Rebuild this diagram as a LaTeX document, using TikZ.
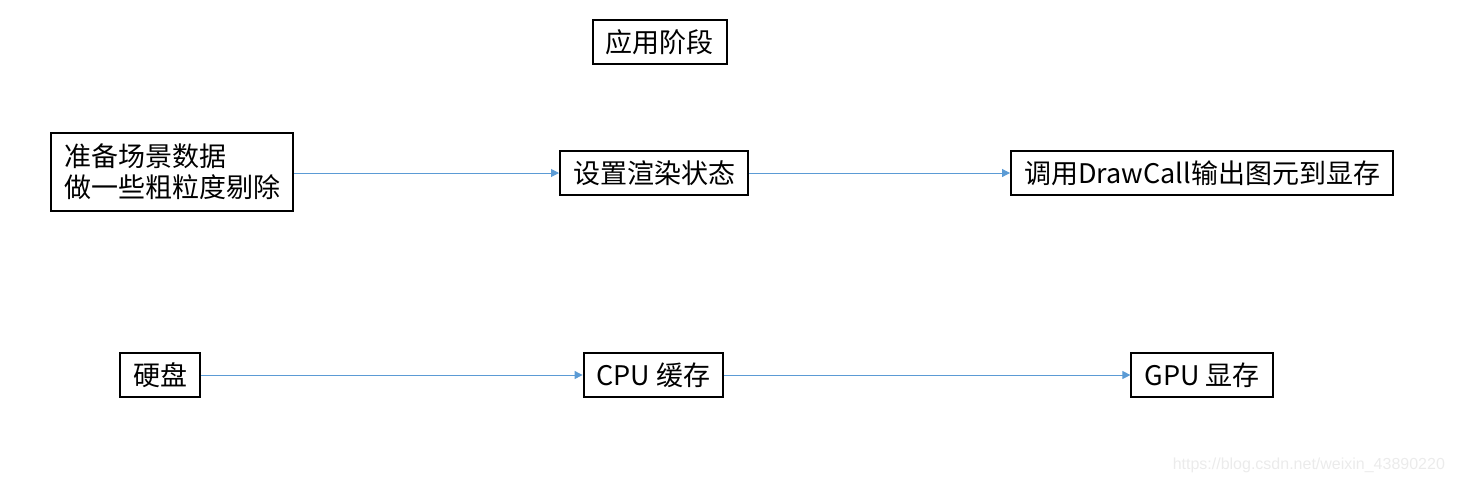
\documentclass[tikz,border=0pt]{standalone}
\usepackage{fontspec}
\setmainfont{Noto Sans CJK SC}
\newfontfamily\markfont{Liberation Sans}
\usepackage{xcolor}
\definecolor{lineBlue}{HTML}{5B9BD5}
\definecolor{markGray}{HTML}{EBEBEB}
\usetikzlibrary{arrows.meta}
\tikzset{
    % Base style for every box
    stage box/.style={
        draw=black,
        line width=1pt,
        fill=white,
        font=\fontsize{13.5}{15.5}\selectfont,
        align=left,
        inner xsep=6.5pt,
        inner ysep=3pt,
        minimum height=22pt,
    },
    % Thin blue connector
    flow/.style={
        -{Triangle[length=4pt, width=4pt]},
        line width=0.5pt,
        draw=lineBlue,
        fill=lineBlue,
    },
}

\begin{document}
\begin{tikzpicture}[x=0.5pt, y=-0.5pt]
    \useasboundingbox (0,0) rectangle (1461,483);

    \node (phase) [stage box] at (659.5,42) {应用阶段};
    \node (prepare) [stage box, inner ysep=5.5pt] at (172,172) {准备场景数据\\做一些粗粒度剔除};
    \node (state) [stage box] at (654,173) {设置渲染状态};
    \node (drawcall) [stage box] at (1202,173) {调用DrawCall输出图元到显存};

    \node (disk) [stage box] at (160,375) {硬盘};
    \node (cpu) [stage box] at (653.5,375) {CPU 缓存};
    \node (gpu) [stage box] at (1202,375) {GPU 显存};

    \draw [flow] (prepare.east |- state) -- (state);
    \draw [flow] (state) -- (drawcall);
    \draw [flow] (disk) -- (cpu);
    \draw [flow] (cpu) -- (gpu);

    \node (mark) [anchor=east, text=markGray, font=\markfont\fontsize{8}{9}\selectfont] at (1452,465) {https://blog.csdn.net/weixin\_43890220};
\end{tikzpicture}
\end{document}
